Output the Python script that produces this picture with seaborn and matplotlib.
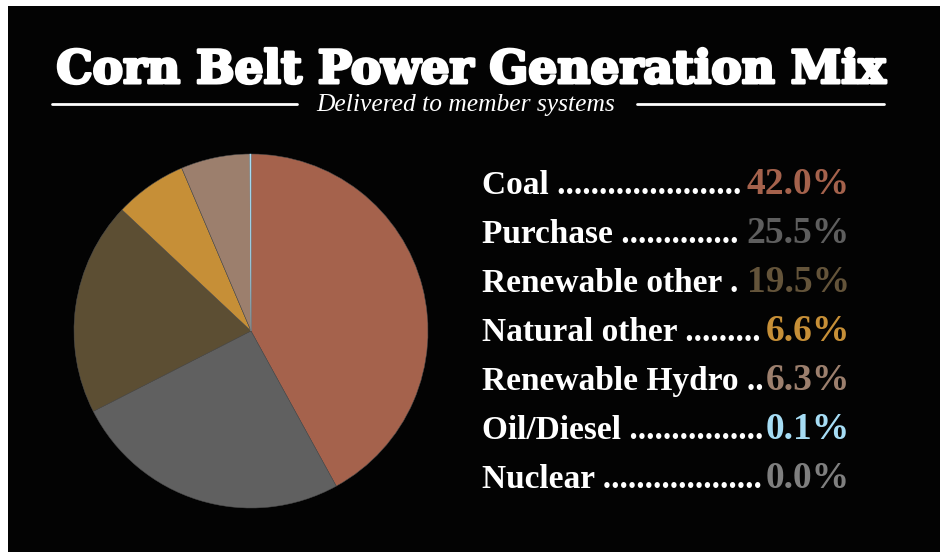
import matplotlib
matplotlib.use("Agg")
import matplotlib.pyplot as plt
import matplotlib.patheffects as pe
import seaborn as sns
from matplotlib.patches import Rectangle
from matplotlib.lines import Line2D

categories = ["Coal", "Purchase", "Renewable other", "Natural other",
              "Renewable Hydro", "Oil/Diesel", "Nuclear"]
values = [42.0, 25.5, 19.5, 6.6, 6.3, 0.1, 0.0]
value_labels = ["42.0%", "25.5%", "19.5%", "6.6%", "6.3%", "0.1%", "0.0%"]
slice_colors = ["#A5624C", "#606060", "#5C4E33", "#C68F37", "#9C7F6D", "#A6DDF5", "#7F7F7F"]
text_colors = ["#A5624C", "#5E5E5E", "#64543A", "#C68F37", "#9C7F6D", "#A6DDF5", "#7F7F7F"]
title = "Corn Belt Power Generation Mix"
subtitle = "Delivered to member systems"

sns.set_theme(style="white")
plt.rcParams["font.family"] = ["Liberation Serif", "DejaVu Serif"]

W, H = 940, 552
fig = plt.figure(figsize=(W / 100, H / 100), dpi=100, facecolor="#030303")


def fx(x):
    return x / W


def fy(y):
    return 1 - y / H


# white strips on top and left
fig.patches.append(Rectangle((0, fy(6)), 1, 1 - fy(6), transform=fig.transFigure,
                             facecolor="white", edgecolor="none", zorder=0))
fig.patches.append(Rectangle((0, 0), fx(8), 1, transform=fig.transFigure,
                             facecolor="white", edgecolor="none", zorder=0))

# pie
cx, cy, r = 251, 331, 177
ax = fig.add_axes([fx(cx - r), fy(cy + r), 2 * r / W, 2 * r / H], zorder=2)
ax.set_facecolor("none")
wedges, _ = ax.pie(values, colors=slice_colors, startangle=90, counterclock=False,
                   wedgeprops=dict(edgecolor="#4F4F4F", linewidth=0.35))
wedges[5].set_edgecolor(slice_colors[5])
wedges[5].set_zorder(3)
ax.set_xlim(-1.0, 1.0)
ax.set_ylim(-1.0, 1.0)
ax.set_aspect("auto")
ax.axis("off")

renderer = fig.canvas.get_renderer()

# title fitted to width
t = fig.text(fx(471), fy(83), title, ha="center", va="baseline", color="white",
             fontsize=36, fontweight="bold", family=["DejaVu Serif"],
             path_effects=[pe.withStroke(linewidth=2.2, foreground="white")])
bb = t.get_window_extent(renderer)
t.set_fontsize(36 * (886 - 57) / bb.width)

st = fig.text(fx(466), fy(111), subtitle, ha="center", va="baseline", color="white",
              fontsize=19, fontstyle="italic")
bb = st.get_window_extent(renderer)
st.set_fontsize(19 * (615 - 316) / bb.width)

fig.add_artist(Line2D([fx(52), fx(297)], [fy(104), fy(104)], color="white", lw=2,
                      transform=fig.transFigure))
fig.add_artist(Line2D([fx(637), fx(884)], [fy(104), fy(104)], color="white", lw=2,
                      transform=fig.transFigure))

# legend rows
x_left, x_right = 482, 850
baselines = [194 + 49 * i for i in range(len(categories))]
for cat, vl, col, yb in zip(categories, value_labels, text_colors, baselines):
    v = fig.text(fx(x_right), fy(yb), vl, ha="right", va="baseline", color=col,
                 fontsize=27, fontweight="bold")
    vleft = v.get_window_extent(renderer).x0
    lab = fig.text(fx(x_left), fy(yb), cat + " ", ha="left", va="baseline", color="white",
                   fontsize=24, fontweight="bold")
    s = cat + " "
    while True:
        lab.set_text(s + ".")
        if lab.get_window_extent(renderer).x1 > vleft - 1:
            lab.set_text(s)
            break
        s += "."

fig.savefig("out.png", dpi=100, facecolor=fig.get_facecolor())
